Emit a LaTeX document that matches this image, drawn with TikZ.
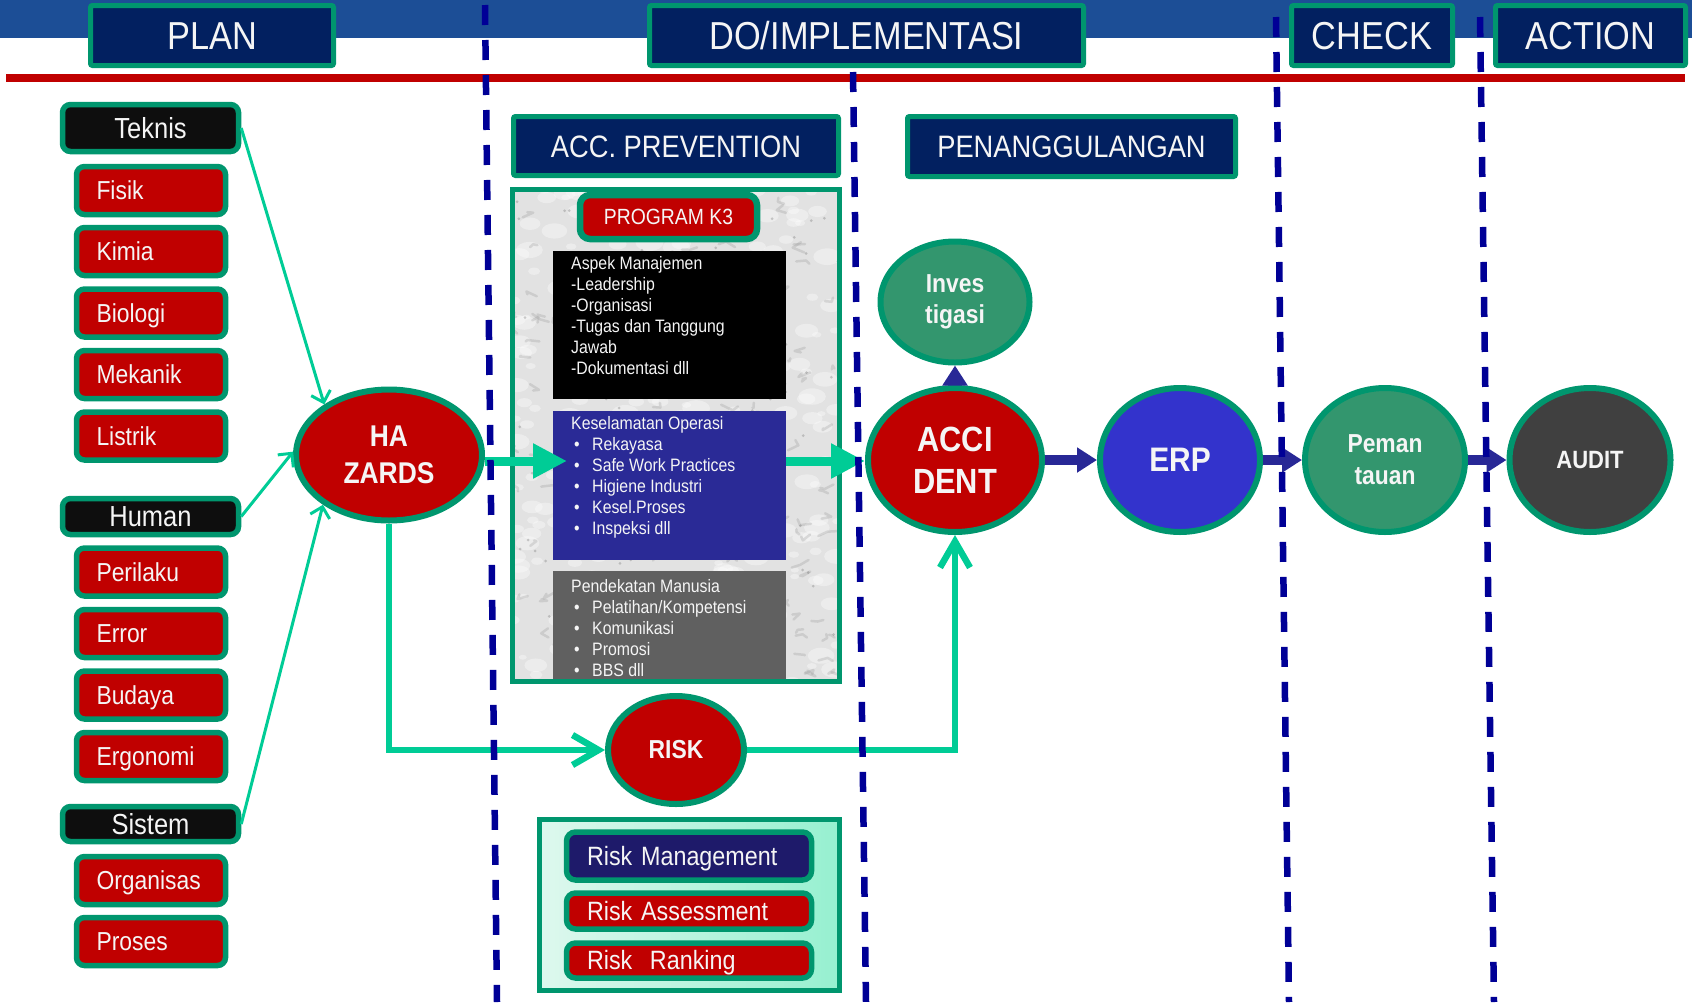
\documentclass[tikz,border=0pt]{standalone}
\usepackage{fontspec}
\setmainfont{Liberation Sans}
\newfontfamily\nar[FakeStretch=0.88]{Liberation Sans}
\usetikzlibrary{shapes.geometric,arrows.meta,calc}

\definecolor{bandblue}{RGB}{28,78,150}
\definecolor{navyhdr}{RGB}{2,32,96}
\definecolor{bgreen}{RGB}{0,150,110}
\definecolor{cgreen}{RGB}{0,204,150}
\definecolor{boxred}{RGB}{192,0,0}
\definecolor{boxblack}{RGB}{14,14,14}
\definecolor{dashblue}{RGB}{0,0,150}
\definecolor{kesblue}{RGB}{42,42,150}
\definecolor{pendgray}{RGB}{96,96,96}
\definecolor{invgreen}{RGB}{51,150,110}
\definecolor{erpblue}{RGB}{51,51,204}
\definecolor{auditgray}{RGB}{64,64,64}
\definecolor{rmnavy}{RGB}{30,26,106}
\definecolor{arrownavy}{RGB}{40,40,150}
\definecolor{mintl}{RGB}{222,248,238}
\definecolor{mintr}{RGB}{150,240,208}
\definecolor{marble}{RGB}{226,226,226}
\definecolor{vein}{RGB}{150,150,150}
\definecolor{txt}{RGB}{245,245,245}

\newcommand\blt{\hspace*{3pt}\makebox[18pt][l]{\textbullet}}

\begin{document}
\begin{tikzpicture}[x=1pt,y=-1pt,
  hdr/.style={draw=bgreen, line width=5pt, fill=navyhdr, text=txt, rounded corners=2pt,
    font={\nar\fontsize{39}{44}\selectfont}, minimum height=60pt, inner sep=0pt,
    text height=27.9pt, text depth=0pt},
  sub/.style={hdr, font={\nar\fontsize{31}{36}\selectfont}, text height=22.2pt},
  cat/.style={draw=bgreen, line width=5.5pt, fill=boxblack, rounded corners=8pt, text=txt,
    font={\nar\fontsize{29}{32}\selectfont}, minimum width=176pt, inner sep=0pt,
    text height=20.8pt, text depth=0pt},
  item/.style={draw=bgreen, line width=5.5pt, fill=boxred, rounded corners=8pt, text=txt,
    font={\nar\fontsize{26}{30}\selectfont}, text width=109pt, inner xsep=20pt,
    inner ysep=0pt, minimum height=48pt, align=left, text height=18.6pt, text depth=0pt},
  rbox/.style={draw=bgreen, line width=5.5pt, fill=boxred, rounded corners=9pt, text=txt,
    font={\nar\fontsize{26.5}{30}\selectfont}, text width=204pt, inner xsep=20.5pt,
    inner ysep=0pt, align=left, text height=18.6pt, text depth=0pt},
  panelbox/.style={draw=none, inner sep=0pt, minimum width=233pt},
  listtxt/.style={text=txt, font={\nar\fontsize{18}{21}\selectfont}, align=left,
    inner sep=0pt, anchor=north west},
  tab/.style={draw=bgreen, line width=6.5pt, fill=boxred, rounded corners=10pt, text=txt,
    font={\nar\fontsize{22}{26}\selectfont}, minimum width=177pt, minimum height=44pt,
    inner sep=0pt, text height=15.8pt, text depth=0pt},
  blob/.style={ellipse, draw=bgreen, line width=6pt, inner sep=0pt, text=txt, align=center},
  thinarr/.style={draw=cgreen, line width=3pt, -{Straight Barb[length=10pt,width=20pt]}},
  thickpath/.style={draw=cgreen, line width=6.5pt, -{Straight Barb[length=26pt,width=30pt]}},
  bigarr/.style={draw=cgreen, line width=9pt, -{Triangle[length=34pt,width=33pt]}},
  navyarr/.style={draw=arrownavy, line width=10pt, -{Triangle[length=20pt,width=24pt]}},
  sepline/.style={draw=dashblue, line width=6.5pt, dash pattern=on 20pt off 15pt},
]
\useasboundingbox (0,0) rectangle (1692,1002);

% top band and red rule
\fill[bandblue] (0,0) rectangle (1692,38);
\draw[boxred, line width=8pt] (6,78) -- (1685,78);

% marble panel of the safety programme
\begin{scope}
  \clip (512.5,189.5) rectangle (839.5,681.5);
  \fill[marble] (512.5,189.5) rectangle (839.5,681.5);
  \pgfmathsetseed{11}
  \foreach \i in {1,...,320}{
    \pgfmathsetmacro{\px}{512+328*rnd}
    \pgfmathsetmacro{\py}{189+493*rnd}
    \pgfmathsetmacro{\rr}{4+10*rnd}
    \fill[white,opacity=0.35] (\px,\py) ellipse ({\rr pt} and {0.6*\rr pt});
  }
  \foreach \i in {1,...,170}{
    \pgfmathsetmacro{\px}{512+328*rnd}
    \pgfmathsetmacro{\py}{189+493*rnd}
    \draw[vein,opacity=0.28,line width=2.5pt,line cap=round,line join=round]
      (\px,\py) -- ++(rand*12,rand*6) -- ++(rand*12,rand*6);
  }
  \foreach \i in {1,...,90}{
    \pgfmathsetmacro{\px}{512+328*rnd}
    \pgfmathsetmacro{\py}{189+493*rnd}
    \fill[gray!60!black,opacity=0.25] (\px,\py) circle (1.5pt);
  }
\end{scope}

\node[panelbox, fill=black, minimum height=148pt] (mgmt) at (669.5,325) {};
\node[panelbox, fill=kesblue, minimum height=149pt] (kes) at (669.5,485.5) {};
\node[panelbox, fill=pendgray, minimum height=110pt] (pend) at (669.5,626) {};
\node[draw=bgreen, line width=5pt, minimum width=327pt, minimum height=492pt, inner sep=0pt]
  (panel) at (676,435.5) {};
\node[tab] (k3) at (668.5,217) {PROGRAM K3};

\node[listtxt] (mgmttxt) at (571,256) {Aspek Manajemen\\-Leadership\\-Organisasi\\-Tugas dan Tanggung\\Jawab\\-Dokumentasi dll};
\node[listtxt] (kestxt) at (571,416) {Keselamatan Operasi\\\blt Rekayasa\\\blt Safe Work Practices\\\blt Higiene Industri\\\blt Kesel.Proses\\\blt Inspeksi dll};
\node[listtxt] (pendtxt) at (571,579) {Pendekatan Manusia\\\blt Pelatihan/Kompetensi\\\blt Komunikasi\\\blt Promosi\\\blt BBS dll};

% hazard sources
\node[cat, minimum height=47pt] (teknis) at (150.5,128) {Teknis};
\node[item] (fisik) at (151,190.5) {Fisik};
\node[item] (kimia) at (151,251.5) {Kimia};
\node[item] (biologi) at (151,313) {Biologi};
\node[item] (mekanik) at (151,374.5) {Mekanik};
\node[item] (listrik) at (151,436) {Listrik};
\node[cat, minimum height=36pt] (human) at (150.5,516.5) {Human};
\node[item] (perilaku) at (151,572) {Perilaku};
\node[item] (error) at (151,633.5) {Error};
\node[item] (budaya) at (151,695) {Budaya};
\node[item] (ergonomi) at (151,756.5) {Ergonomi};
\node[cat, minimum height=35pt] (sistem) at (150.5,824) {Sistem};
\node[item] (organisas) at (151,880.5) {Organisas};
\node[item] (proses) at (151,941.5) {Proses};

% risk panel
\node[draw=bgreen, line width=5pt, left color=mintl, right color=mintr, minimum width=300pt,
  minimum height=171pt, inner sep=0pt] (riskpanel) at (689.5,905) {};
\node[rbox, fill=rmnavy, minimum height=48pt] (rmgmt) at (689,856) {Risk Management};
\node[rbox, minimum height=36pt] (rassess) at (689,911) {Risk Assessment};
\node[rbox, minimum height=35pt] (rrank) at (689,960.5) {Risk~~Ranking};

% main flow
\node[blob, fill=boxred, minimum width=186pt, minimum height=131pt,
  font={\nar\bfseries\fontsize{30}{37}\selectfont}] (hazards) at (389,455) {HA\\ZARDS};
\node[blob, fill=boxred, minimum width=136pt, minimum height=108pt,
  font={\nar\bfseries\fontsize{26}{30}\selectfont}] (risk) at (676,750) {RISK};
\node[blob, fill=invgreen, minimum width=149pt, minimum height=121pt,
  font={\nar\bfseries\fontsize{26}{31}\selectfont}] (inves) at (955,302) {Inves\\tigasi};
\node[blob, fill=boxred, minimum width=174pt, minimum height=144pt,
  font={\nar\bfseries\fontsize{35}{42}\selectfont}] (accident) at (955,460) {ACCI\\DENT};
\node[blob, fill=erpblue, minimum width=160pt, minimum height=144pt,
  font={\nar\bfseries\fontsize{34}{40}\selectfont}] (erp) at (1180,460) {ERP};
\node[blob, fill=invgreen, minimum width=160pt, minimum height=144pt,
  font={\nar\bfseries\fontsize{26}{32}\selectfont}] (peman) at (1385,460) {Peman\\tauan};
\node[blob, fill=auditgray, minimum width=161pt, minimum height=144pt,
  font={\nar\bfseries\fontsize{25}{30}\selectfont}] (audit) at (1590,460) {AUDIT};

% connectors
\draw[thinarr] (teknis.east) -- (hazards.142);
\draw[thinarr] (human.east) -- (hazards.178);
\draw[thinarr] (sistem.east) -- (hazards.217);

\coordinate (kesin) at (567,461);
\draw[bigarr] (hazards.east |- kesin) -- (kesin);
\draw[bigarr] (kes.east |- kesin) -- (accident.west |- kesin);

\draw[thickpath] (hazards.south) -- (hazards.south |- risk.west) -- (risk.west);
\draw[thickpath] (risk.east) -- (accident.south |- risk.east) -- (accident.south);

\draw[navyarr] (accident.north) -- (inves.south);
\draw[navyarr] (accident.east) -- (erp.west);
\draw[navyarr] (erp.east) -- (peman.west);
\draw[navyarr] (peman.east) -- (audit.west);

% phase separators
\draw[sepline] (485,5) -- (497,1002);
\draw[sepline] (853,72) -- (866,1002);
\draw[sepline] (1276,17) -- (1289,1002);
\draw[sepline] (1480,17) -- (1494,1002);

% phase headers
\node[hdr, minimum width=243pt] (plan) at (212,35.5) {PLAN};
\node[hdr, minimum width=434pt] (do) at (866.5,35.5) {DO/IMPLEMENTASI};
\node[hdr, minimum width=161pt] (check) at (1372,35.5) {CHECK};
\node[hdr, minimum width=190pt] (action) at (1590.5,35.5) {ACTION};
\node[sub, minimum width=325pt, minimum height=59pt] (accprev) at (676,146) {ACC. PREVENTION};
\node[sub, minimum width=328pt, minimum height=60pt] (penang) at (1071.5,146.5) {PENANGGULANGAN};
\end{tikzpicture}
\end{document}
